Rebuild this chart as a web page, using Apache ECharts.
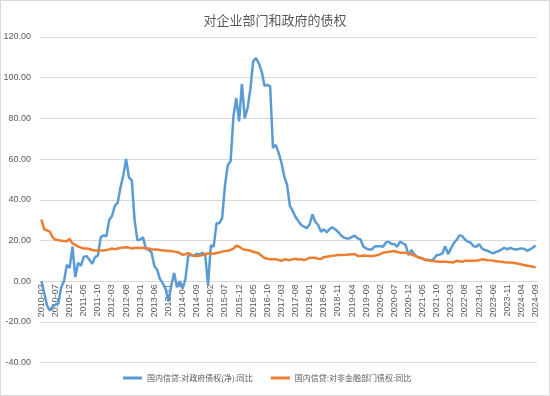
<!DOCTYPE html>
<html><head><meta charset="utf-8">
<script src="https://cdn.jsdelivr.net/npm/echarts@6/dist/echarts.min.js"></script>
<style>html,body{margin:0;padding:0;background:#fff}#c{width:550px;height:396px}</style>
</head><body><div id="c"></div>
<script>
// monthly categories 2010-02 .. 2024-09
var startYear = 2010, startMonth = 2, monthCount = 176;
var categories = [];
for (var k = 0; k < monthCount; k++) {
  var m = startMonth - 1 + k;
  var y = startYear + Math.floor(m / 12);
  var mm = (m % 12) + 1;
  categories.push(y + '-' + (mm < 10 ? '0' + mm : mm));
}
var govClaims = [
  0,-6,-12,-14.5,-12.5,-11.5,-11,-3,0,8,
  6.5,17,2,9,7.5,12,12.3,10.5,8.5,11.8,
  12.5,21.5,22.5,22,30,32,37,38.5,46,52,
  60,51,49.5,30,20,20.5,21.5,15.8,15.5,14,
  7.5,5.5,1,-1,-4,-10,-2,4,-3,0,
  -3.5,1,12.5,12.8,12.5,13.5,13,14,13,-2,
  17.5,17,28.4,28.5,31,47,57,59,81,90,
  78.5,97,80,85,94.5,108,109.7,107,103,96,
  96.5,95.7,65.5,67,63,58.3,51.4,47.3,37,34.5,
  31.5,29.5,27.6,26.8,26,28,32.8,29.2,27.6,24.3,
  25.5,24,25.5,26.5,25.5,24.3,22.7,21.5,21,21,
  21.8,22.3,21,20.5,17,16.1,15.5,15.6,17,17.2,
  17.2,16.9,19,19.4,18.2,18.2,16.9,19.4,18.6,17.7,
  12.8,15.3,13.3,12,11.5,11,10.3,10.5,10,11,
  12.8,13,13.6,17.2,13.3,16,18.6,20.2,22.5,22.2,
  20.5,19.4,18.9,17.2,16.9,18.2,16.1,15.3,14.9,14.2,
  13.6,14.4,14.8,15.6,16.4,15.6,16.4,15.8,15.6,15.8,
  16.1,15.8,14.9,15.6,16.4,17.5
];
var nonFinClaims = [
  30.3,25.4,25,24.3,21.5,20.3,20.2,19.8,19.7,19.6,
  20.8,18.5,17.8,17,16.5,16,16,15.8,15.3,15.1,
  15.1,15.1,15.1,15.3,15.6,16,15.6,16,16.4,16.5,
  16.7,16.5,16,16.3,16.4,16.3,16.4,16.2,16,15.6,
  15.6,15.6,15.3,15.1,15,14.8,14.8,14.5,14.3,13.8,
  12.9,13.2,13.8,13,12.4,12.4,12.5,12.8,13.3,13.6,
  13.6,13.5,13.8,14.1,14.5,14.8,14.9,15.3,16,17.4,
  16.9,16,15.4,15.3,15,14.4,14.1,13.6,12.5,11.4,
  11,10.8,10.8,10.8,10.4,10,10.7,10.5,10.3,10.8,
  11,10.6,10.8,10.3,10.8,11.5,11.5,11.5,11,10.9,
  11.8,12,12.2,12.5,12.6,12.8,12.8,12.8,13,13.1,
  13.2,13.3,12.4,12.4,12.6,12.5,12.4,12.3,12.5,12.8,
  13.3,14,14.2,14.4,14.6,14.8,14.3,14,14,13.9,
  13.6,13.2,12.6,12,11.5,11.2,10.5,10.2,10,9.9,
  9.7,9.5,9.5,9.5,9.4,9.3,9.2,10,9.8,9.5,
  10,10,10,10,10.1,10.3,10.7,10.5,10.3,10.2,
  10,9.8,9.6,9.5,9.3,9.2,9.1,9,8.8,8.5,
  8.2,7.9,7.6,7.4,7.1,6.6
];
var seriesNames = ['国内信贷:对政府债权(净):同比', '国内信贷:对非金融部门债权:同比'];
var titleText = '对企业部门和政府的债权';

var chart = echarts.init(document.getElementById('c'), null, {renderer: 'canvas'});
var gray = '#595959';
var gridTop = 37, gridBottom = 33.5;
var plotH = 396 - gridTop - gridBottom;
// distance from bottom (-40) to zero line
var zeroOffset = plotH * 40 / 160;
chart.setOption({
  animation: false,
  backgroundColor: '#fff',
  title: {text: titleText, left: 'center', top: 9,
    textStyle: {fontFamily: 'Noto Sans CJK SC', fontSize: 13, fontWeight: 'normal', color: gray}},
  graphic: [{type: 'rect', shape: {x: 0.5, y: 0.5, width: 549, height: 395},
    style: {fill: 'none', stroke: '#d9d9d9', lineWidth: 1}, silent: true}],
  legend: {bottom: 9, left: 118, itemGap: 18, itemWidth: 19, itemHeight: 3, icon: 'rect',
    textStyle: {fontFamily: 'Noto Sans CJK SC', fontSize: 8, color: gray},
    data: seriesNames},
  grid: {left: 40, right: 13, top: gridTop, bottom: gridBottom, containLabel: false, outerBoundsMode: 'none'},
  xAxis: {type: 'category', data: categories, boundaryGap: true, position: 'bottom',
    offset: -zeroOffset,
    axisLine: {onZero: false, lineStyle: {color: '#d9d9d9'}},
    axisTick: {show: false},
    axisLabel: {interval: 4, rotate: 90, fontSize: 9, color: gray, margin: 3,
      fontFamily: 'Liberation Sans'},
    splitLine: {show: false}},
  yAxis: {type: 'value', min: -40, max: 120, interval: 20,
    axisLine: {show: false}, axisTick: {show: false},
    axisLabel: {fontSize: 9, color: gray, margin: 9, fontFamily: 'Liberation Sans',
      formatter: function (v) { return v.toFixed(2); }},
    splitLine: {lineStyle: {color: '#d9d9d9', width: 1}}},
  series: [
    {name: seriesNames[0], type: 'line', data: govClaims, symbol: 'none',
      lineStyle: {color: '#5B9BD5', width: 2.5}, itemStyle: {color: '#5B9BD5'}},
    {name: seriesNames[1], type: 'line', data: nonFinClaims, symbol: 'none',
      lineStyle: {color: '#ED7D31', width: 2.5}, itemStyle: {color: '#ED7D31'}}
  ]
});
</script></body></html>
